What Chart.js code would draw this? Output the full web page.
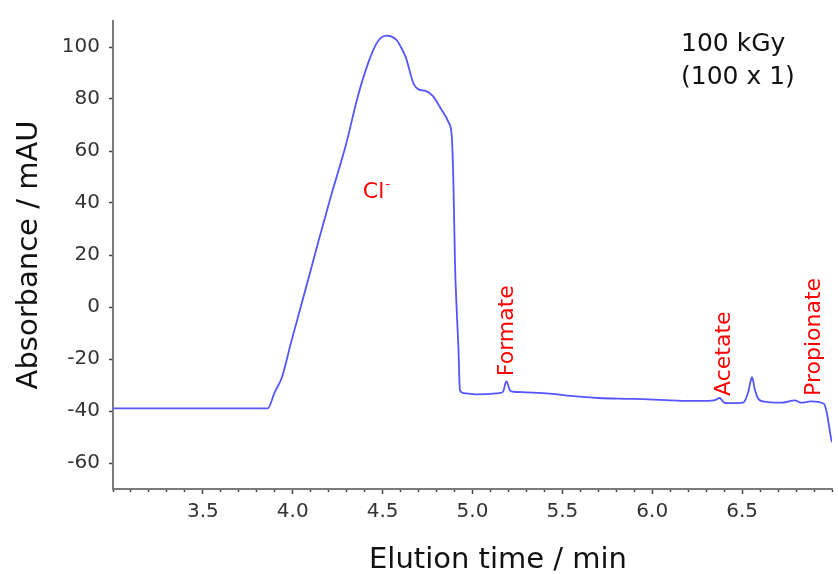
<!DOCTYPE html>
<html>
<head>
<meta charset="utf-8">
<script src="https://cdn.jsdelivr.net/npm/chart.js@4"></script>
<style>
  html, body { margin: 0; padding: 0; background: #ffffff; }
  #c { display: block; }
</style>
</head>
<body>
<canvas id="c" width="838" height="574"></canvas>
<script>
// ---- data ----
const elutionTime = [
  3.00, 3.86, 3.90, 3.94, 3.99, 4.07, 4.14, 4.21, 4.298, 4.362, 4.417, 4.463, 4.49, 4.52,
  4.55, 4.58, 4.60, 4.63, 4.656, 4.674, 4.70, 4.74, 4.78, 4.82, 4.867, 4.885, 4.894, 4.903, 4.912,
  4.922, 4.93, 4.95, 5.02, 5.15, 5.17, 5.188, 5.21, 5.226, 5.30, 5.43, 5.55, 5.70,
  5.85, 5.98, 6.10, 6.22, 6.31, 6.35, 6.375, 6.40, 6.42, 6.505, 6.534, 6.546, 6.555,
  6.57, 6.59, 6.615, 6.717, 6.793, 6.827, 6.882, 6.955, 6.97, 6.983, 6.992, 7.00
];
const absorbance = [
  -39.0, -39.0, -32.7, -27.0, -13.8, 6.5, 24.5, 42.0, 63.0, 81.0, 93.3, 101.0, 103.5, 104.4,
  104.0, 102.5, 100.2, 95.8, 89.4, 85.6, 83.7, 83.1, 81.1, 76.7, 71.0, 65.3, 47.4, 15.7, -0.9,
  -16.2, -32.0, -33.1, -33.6, -33.1, -32.6, -28.6, -32.2, -32.6, -32.8, -33.3, -34.2, -35.0,
  -35.3, -35.5, -35.9, -36.1, -36.1, -35.8, -35.0, -36.8, -37.0, -36.8, -32.7, -28.9, -27.0,
  -31.5, -35.3, -36.3, -36.8, -35.9, -36.8, -36.3, -37.2, -40.3, -45.5, -49.5, -52.0
];
const xTickLabels = [3.5, 4.0, 4.5, 5.0, 5.5, 6.0, 6.5];
const yTickLabels = [-60, -40, -20, 0, 20, 40, 60, 80, 100];
const peakLabels = ['Cl', 'Formate', 'Acetate', 'Propionate'];
const peakSuperscripts = ['-', '', '', ''];
const conditionLines = ['100 kGy', '(100 x 1)'];
const xTitle = 'Elution time / min';
const yTitle = 'Absorbance / mAU';

// ---- presentation ----
const FONT = '"DejaVu Sans", Verdana, sans-serif';
const peakAnchors = [
  { x: 4.39, y: 41.9, rotate: false },
  { x: 5.223, y: -26.6, rotate: true },
  { x: 6.43, y: -34.2, rotate: true },
  { x: 6.934, y: -34.2, rotate: true }
];

const textPlugin = {
  id: 'chartTexts',
  afterDraw(chart) {
    const ctx = chart.ctx;
    const xs = chart.scales.x, ys = chart.scales.y;
    ctx.save();
    // peak labels
    ctx.fillStyle = '#ff0000';
    ctx.textAlign = 'left';
    ctx.textBaseline = 'alphabetic';
    peakLabels.forEach((txt, i) => {
      const a = peakAnchors[i];
      const px = xs.getPixelForValue(a.x), py = ys.getPixelForValue(a.y);
      ctx.save();
      ctx.translate(px, py);
      if (a.rotate) ctx.rotate(-Math.PI / 2);
      ctx.font = '22px ' + FONT;
      ctx.fillText(txt, 0, 0);
      if (peakSuperscripts[i]) {
        const w = ctx.measureText(txt).width;
        ctx.font = '13px ' + FONT;
        ctx.fillText(peakSuperscripts[i], w + 1, -10);
      }
      ctx.restore();
    });
    // condition text
    ctx.fillStyle = '#111111';
    ctx.font = '25px ' + FONT;
    ctx.fillText(conditionLines[0], 681, 51);
    ctx.fillText(conditionLines[1], 681, 83.5);
    // x axis title
    ctx.font = '29px ' + FONT;
    ctx.textAlign = 'center';
    ctx.fillText(xTitle, 498, 568);
    ctx.restore();
  }
};

new Chart(document.getElementById('c'), {
  type: 'line',
  data: {
    datasets: [{
      data: elutionTime.map((t, i) => ({ x: t, y: absorbance[i] })),
      borderColor: 'rgb(85, 85, 255)',
      borderWidth: 1.8,
      pointRadius: 0,
      cubicInterpolationMode: 'monotone',
      fill: false
    }]
  },
  options: {
    responsive: false,
    animation: false,
    events: [],
    layout: { padding: { top: 16, right: 0, bottom: 0, left: 0 } },
    plugins: { legend: { display: false }, tooltip: { enabled: false } },
    scales: {
      x: {
        type: 'linear',
        min: 3.0,
        max: 7.0,
        afterFit: s => { s.height = 85; },
        afterBuildTicks: s => {
          const t = [];
          for (let k = 30; k <= 70; k++) t.push({ value: k / 10 });
          s.ticks = t;
        },
        border: { color: '#7a7a7a', width: 2 },
        grid: {
          drawOnChartArea: false,
          tickLength: 5,
          tickWidth: 1.5,
          tickColor: '#444',
          tickBorderDash: ctx => (ctx.tick && xTickLabels.some(v => Math.abs(v - ctx.tick.value) < 1e-6)) ? [] : [2, 20]
        },
        ticks: {
          autoSkip: false,
          maxRotation: 0,
          padding: 6,
          color: '#333333',
          font: { family: FONT, size: 20 },
          callback: v => xTickLabels.some(l => Math.abs(l - v) < 1e-6) ? v.toFixed(1) : ''
        }
      },
      y: {
        type: 'linear',
        min: -70,
        max: 110,
        afterFit: s => { s.width = 113; },
        afterBuildTicks: s => { s.ticks = yTickLabels.map(v => ({ value: v })); },
        border: { color: '#7a7a7a', width: 2 },
        grid: { drawOnChartArea: false, tickLength: 4, tickWidth: 1.5, tickColor: '#444' },
        ticks: {
          padding: 9,
          color: '#333333',
          font: { family: FONT, size: 20 },
          callback: v => String(v)
        },
        title: {
          display: true,
          text: yTitle,
          color: '#111111',
          font: { family: FONT, size: 29 },
          padding: { top: 12, bottom: 0 }
        }
      }
    }
  },
  plugins: [textPlugin]
});
</script>
</body>
</html>
